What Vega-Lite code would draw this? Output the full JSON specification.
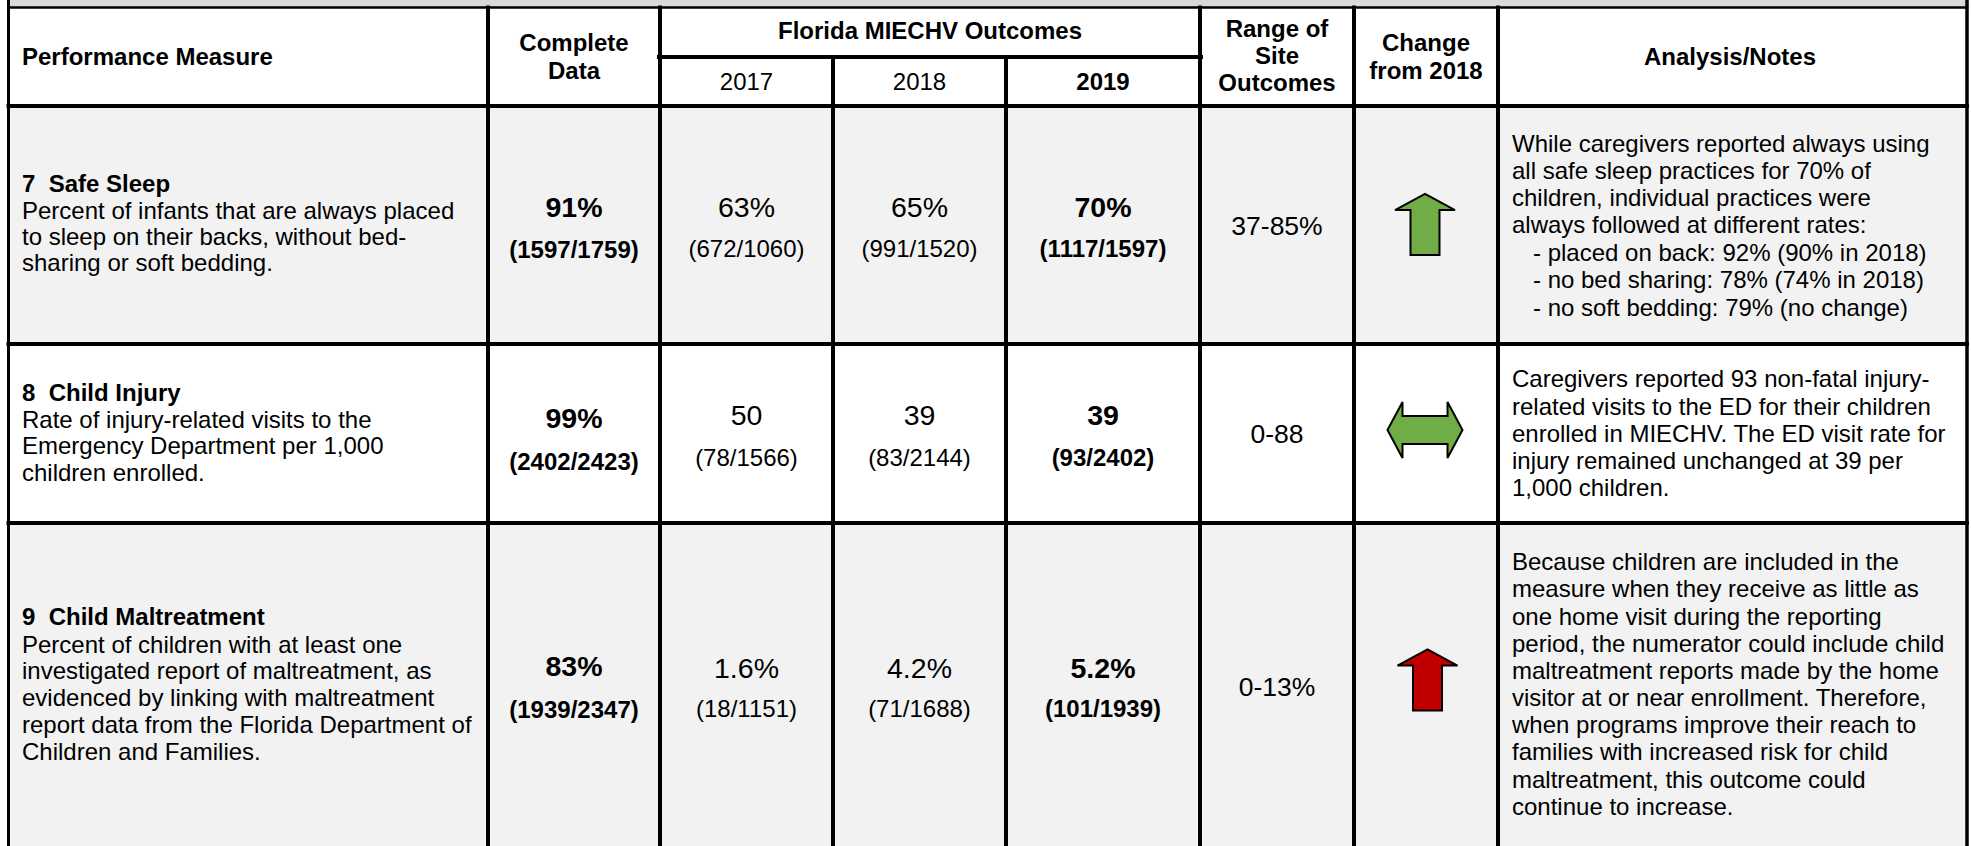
{
  "$schema": "https://vega.github.io/schema/vega-lite/v6.json",
  "width": 1971,
  "height": 846,
  "padding": 0,
  "autosize": {"type": "none"},
  "background": "#ffffff",
  "config": {"view": {"stroke": null}},
  "resolve": {"scale": {"fill": "independent", "strokeWidth": "independent", "shape": "independent"}},
  "datasets": {
    "shades": [
      {"area": "top margin", "x": 8.5, "x2": 1967, "y": 0, "y2": 7.5},
      {"area": "shaded row", "x": 8.5, "x2": 1967, "y": 106, "y2": 344},
      {"area": "shaded row", "x": 8.5, "x2": 1967, "y": 523, "y2": 846}
    ],
    "lines": [
      {"line": "frame top", "x": 8.5, "x2": 1967, "y": 7.5, "y2": 7.5},
      {"line": "frame left", "x": 8.5, "x2": 8.5, "y": 0, "y2": 846},
      {"line": "frame right", "x": 1967, "x2": 1967, "y": 0, "y2": 846},
      {"line": "grid", "x": 488, "x2": 488, "y": 7.5, "y2": 846},
      {"line": "grid", "x": 660, "x2": 660, "y": 7.5, "y2": 846},
      {"line": "grid", "x": 833, "x2": 833, "y": 57, "y2": 846},
      {"line": "grid", "x": 1006, "x2": 1006, "y": 57, "y2": 846},
      {"line": "grid", "x": 1200, "x2": 1200, "y": 7.5, "y2": 846},
      {"line": "grid", "x": 1354, "x2": 1354, "y": 7.5, "y2": 846},
      {"line": "grid", "x": 1498, "x2": 1498, "y": 7.5, "y2": 846},
      {"line": "grid", "x": 659, "x2": 1201, "y": 57, "y2": 57},
      {"line": "grid", "x": 8.5, "x2": 1967, "y": 106, "y2": 106},
      {"line": "grid", "x": 8.5, "x2": 1967, "y": 344, "y2": 344},
      {"line": "grid", "x": 8.5, "x2": 1967, "y": 523, "y2": 523}
    ],
    "arrows": [
      {"measure": "7 Safe Sleep", "change": "improved", "x": 1425, "y": 224.5},
      {"measure": "8 Child Injury", "change": "no change", "x": 1425, "y": 430},
      {"measure": "9 Child Maltreatment", "change": "worsened", "x": 1427.5, "y": 680}
    ],
    "texts": [
      {"role": "stub header", "x": 22, "y": 58, "text": "Performance Measure"},
      {"role": "column header", "x": 574, "y": 44, "text": "Complete"},
      {"role": "column header", "x": 574, "y": 72, "text": "Data"},
      {"role": "column header", "x": 930, "y": 32, "text": "Florida MIECHV Outcomes"},
      {"role": "year", "x": 746.5, "y": 83, "text": "2017"},
      {"role": "year", "x": 919.5, "y": 83, "text": "2018"},
      {"role": "column header", "x": 1103, "y": 83, "text": "2019"},
      {"role": "column header", "x": 1277, "y": 30, "text": "Range of"},
      {"role": "column header", "x": 1277, "y": 57, "text": "Site"},
      {"role": "column header", "x": 1277, "y": 84, "text": "Outcomes"},
      {"role": "column header", "x": 1426, "y": 44, "text": "Change"},
      {"role": "column header", "x": 1426, "y": 72, "text": "from 2018"},
      {"role": "column header", "x": 1730, "y": 58, "text": "Analysis/Notes"},

      {"role": "measure", "x": 22, "y": 185, "text": "7\u00a0 Safe Sleep"},
      {"role": "definition", "x": 22, "y": 212, "text": "Percent of infants that are always placed"},
      {"role": "definition", "x": 22, "y": 238, "text": "to sleep on their backs, without bed-"},
      {"role": "definition", "x": 22, "y": 264, "text": "sharing or soft bedding."},
      {"role": "completeness rate", "x": 574, "y": 208, "text": "91%"},
      {"role": "completeness count", "x": 574, "y": 251, "text": "(1597/1759)"},
      {"role": "rate", "x": 746.5, "y": 208, "text": "63%"},
      {"role": "count", "x": 746.5, "y": 250, "text": "(672/1060)"},
      {"role": "rate", "x": 919.5, "y": 208, "text": "65%"},
      {"role": "count", "x": 919.5, "y": 250, "text": "(991/1520)"},
      {"role": "rate 2019", "x": 1103, "y": 208, "text": "70%"},
      {"role": "count 2019", "x": 1103, "y": 250, "text": "(1117/1597)"},
      {"role": "site range", "x": 1277, "y": 227, "text": "37-85%"},
      {"role": "note", "x": 1512, "y": 144.5, "text": "While caregivers reported always using"},
      {"role": "note", "x": 1512, "y": 171.5, "text": "all safe sleep practices for 70% of"},
      {"role": "note", "x": 1512, "y": 198.5, "text": "children, individual practices were"},
      {"role": "note", "x": 1512, "y": 226, "text": "always followed at different rates:"},
      {"role": "note", "x": 1533, "y": 253.5, "text": "- placed on back: 92% (90% in 2018)"},
      {"role": "note", "x": 1533, "y": 281, "text": "- no bed sharing: 78% (74% in 2018)"},
      {"role": "note", "x": 1533, "y": 308.5, "text": "- no soft bedding: 79% (no change)"},

      {"role": "measure", "x": 22, "y": 394, "text": "8\u00a0 Child Injury"},
      {"role": "definition", "x": 22, "y": 421, "text": "Rate of injury-related visits to the"},
      {"role": "definition", "x": 22, "y": 447, "text": "Emergency Department per 1,000"},
      {"role": "definition", "x": 22, "y": 473.5, "text": "children enrolled."},
      {"role": "completeness rate", "x": 574, "y": 419, "text": "99%"},
      {"role": "completeness count", "x": 574, "y": 463, "text": "(2402/2423)"},
      {"role": "rate", "x": 746.5, "y": 416, "text": "50"},
      {"role": "count", "x": 746.5, "y": 459, "text": "(78/1566)"},
      {"role": "rate", "x": 919.5, "y": 416, "text": "39"},
      {"role": "count", "x": 919.5, "y": 459, "text": "(83/2144)"},
      {"role": "rate 2019", "x": 1103, "y": 416, "text": "39"},
      {"role": "count 2019", "x": 1103, "y": 459, "text": "(93/2402)"},
      {"role": "site range", "x": 1277, "y": 435, "text": "0-88"},
      {"role": "note", "x": 1512, "y": 380, "text": "Caregivers reported 93 non-fatal injury-"},
      {"role": "note", "x": 1512, "y": 407.5, "text": "related visits to the ED for their children"},
      {"role": "note", "x": 1512, "y": 435, "text": "enrolled in MIECHV. The ED visit rate for"},
      {"role": "note", "x": 1512, "y": 462, "text": "injury remained unchanged at 39 per"},
      {"role": "note", "x": 1512, "y": 489, "text": "1,000 children."},

      {"role": "measure", "x": 22, "y": 618, "text": "9\u00a0 Child Maltreatment"},
      {"role": "definition", "x": 22, "y": 645.5, "text": "Percent of children with at least one"},
      {"role": "definition", "x": 22, "y": 672, "text": "investigated report of maltreatment, as"},
      {"role": "definition", "x": 22, "y": 699, "text": "evidenced by linking with maltreatment"},
      {"role": "definition", "x": 22, "y": 726, "text": "report data from the Florida Department of"},
      {"role": "definition", "x": 22, "y": 752.5, "text": "Children and Families."},
      {"role": "completeness rate", "x": 574, "y": 667, "text": "83%"},
      {"role": "completeness count", "x": 574, "y": 711, "text": "(1939/2347)"},
      {"role": "rate", "x": 746.5, "y": 669, "text": "1.6%"},
      {"role": "count", "x": 746.5, "y": 710, "text": "(18/1151)"},
      {"role": "rate", "x": 919.5, "y": 669, "text": "4.2%"},
      {"role": "count", "x": 919.5, "y": 710, "text": "(71/1688)"},
      {"role": "rate 2019", "x": 1103, "y": 669, "text": "5.2%"},
      {"role": "count 2019", "x": 1103, "y": 710, "text": "(101/1939)"},
      {"role": "site range", "x": 1277, "y": 688, "text": "0-13%"},
      {"role": "note", "x": 1512, "y": 563, "text": "Because children are included in the"},
      {"role": "note", "x": 1512, "y": 590, "text": "measure when they receive as little as"},
      {"role": "note", "x": 1512, "y": 617.5, "text": "one home visit during the reporting"},
      {"role": "note", "x": 1512, "y": 645, "text": "period, the numerator could include child"},
      {"role": "note", "x": 1512, "y": 672, "text": "maltreatment reports made by the home"},
      {"role": "note", "x": 1512, "y": 698.5, "text": "visitor at or near enrollment. Therefore,"},
      {"role": "note", "x": 1512, "y": 726, "text": "when programs improve their reach to"},
      {"role": "note", "x": 1512, "y": 753, "text": "families with increased risk for child"},
      {"role": "note", "x": 1512, "y": 780.5, "text": "maltreatment, this outcome could"},
      {"role": "note", "x": 1512, "y": 807.5, "text": "continue to increase."}
    ]
  },
  "layer": [
    {
      "data": {"name": "shades"},
      "mark": {"type": "rect", "strokeWidth": 0},
      "encoding": {
        "x": {"field": "x", "type": "quantitative", "scale": {"domain": [0, 1971], "nice": false, "zero": false}, "axis": null},
        "x2": {"field": "x2"},
        "y": {"field": "y", "type": "quantitative", "scale": {"domain": [0, 846], "nice": false, "zero": false, "reverse": true}, "axis": null},
        "y2": {"field": "y2"},
        "fill": {"field": "area", "type": "nominal", "scale": {"domain": ["top margin", "shaded row"], "range": ["#D9D9D9", "#F2F2F2"]}, "legend": null}
      }
    },
    {
      "data": {"name": "texts"},
      "transform": [{"filter": {"field": "role", "oneOf": ["definition", "note"]}}],
      "mark": {"type": "text", "align": "left", "baseline": "middle", "font": "Liberation Sans", "fontSize": 24, "color": "#000000"},
      "encoding": {
        "x": {"field": "x", "type": "quantitative", "scale": {"domain": [0, 1971], "nice": false, "zero": false}, "axis": null},
        "y": {"field": "y", "type": "quantitative", "scale": {"domain": [0, 846], "nice": false, "zero": false, "reverse": true}, "axis": null},
        "text": {"field": "text", "type": "nominal"}
      }
    },
    {
      "data": {"name": "texts"},
      "transform": [{"filter": {"field": "role", "oneOf": ["stub header", "measure"]}}],
      "mark": {"type": "text", "align": "left", "baseline": "middle", "font": "Liberation Sans", "fontSize": 24, "fontWeight": "bold", "color": "#000000"},
      "encoding": {
        "x": {"field": "x", "type": "quantitative", "scale": {"domain": [0, 1971], "nice": false, "zero": false}, "axis": null},
        "y": {"field": "y", "type": "quantitative", "scale": {"domain": [0, 846], "nice": false, "zero": false, "reverse": true}, "axis": null},
        "text": {"field": "text", "type": "nominal"}
      }
    },
    {
      "data": {"name": "texts"},
      "transform": [{"filter": {"field": "role", "oneOf": ["column header", "completeness count", "count 2019"]}}],
      "mark": {"type": "text", "align": "center", "baseline": "middle", "font": "Liberation Sans", "fontSize": 24, "fontWeight": "bold", "color": "#000000"},
      "encoding": {
        "x": {"field": "x", "type": "quantitative", "scale": {"domain": [0, 1971], "nice": false, "zero": false}, "axis": null},
        "y": {"field": "y", "type": "quantitative", "scale": {"domain": [0, 846], "nice": false, "zero": false, "reverse": true}, "axis": null},
        "text": {"field": "text", "type": "nominal"}
      }
    },
    {
      "data": {"name": "texts"},
      "transform": [{"filter": {"field": "role", "oneOf": ["year", "count"]}}],
      "mark": {"type": "text", "align": "center", "baseline": "middle", "font": "Liberation Sans", "fontSize": 24, "color": "#000000"},
      "encoding": {
        "x": {"field": "x", "type": "quantitative", "scale": {"domain": [0, 1971], "nice": false, "zero": false}, "axis": null},
        "y": {"field": "y", "type": "quantitative", "scale": {"domain": [0, 846], "nice": false, "zero": false, "reverse": true}, "axis": null},
        "text": {"field": "text", "type": "nominal"}
      }
    },
    {
      "data": {"name": "texts"},
      "transform": [{"filter": {"field": "role", "oneOf": ["completeness rate", "rate 2019"]}}],
      "mark": {"type": "text", "align": "center", "baseline": "middle", "font": "Liberation Sans", "fontSize": 28.5, "fontWeight": "bold", "color": "#000000"},
      "encoding": {
        "x": {"field": "x", "type": "quantitative", "scale": {"domain": [0, 1971], "nice": false, "zero": false}, "axis": null},
        "y": {"field": "y", "type": "quantitative", "scale": {"domain": [0, 846], "nice": false, "zero": false, "reverse": true}, "axis": null},
        "text": {"field": "text", "type": "nominal"}
      }
    },
    {
      "data": {"name": "texts"},
      "transform": [{"filter": {"field": "role", "oneOf": ["rate"]}}],
      "mark": {"type": "text", "align": "center", "baseline": "middle", "font": "Liberation Sans", "fontSize": 28.5, "color": "#000000"},
      "encoding": {
        "x": {"field": "x", "type": "quantitative", "scale": {"domain": [0, 1971], "nice": false, "zero": false}, "axis": null},
        "y": {"field": "y", "type": "quantitative", "scale": {"domain": [0, 846], "nice": false, "zero": false, "reverse": true}, "axis": null},
        "text": {"field": "text", "type": "nominal"}
      }
    },
    {
      "data": {"name": "texts"},
      "transform": [{"filter": {"field": "role", "oneOf": ["site range"]}}],
      "mark": {"type": "text", "align": "center", "baseline": "middle", "font": "Liberation Sans", "fontSize": 26.5, "color": "#000000"},
      "encoding": {
        "x": {"field": "x", "type": "quantitative", "scale": {"domain": [0, 1971], "nice": false, "zero": false}, "axis": null},
        "y": {"field": "y", "type": "quantitative", "scale": {"domain": [0, 846], "nice": false, "zero": false, "reverse": true}, "axis": null},
        "text": {"field": "text", "type": "nominal"}
      }
    },
    {
      "data": {"name": "arrows"},
      "mark": {"type": "point", "filled": true, "opacity": 1, "size": 3600, "stroke": "#000000", "strokeWidth": 2, "strokeJoin": "miter"},
      "encoding": {
        "x": {"field": "x", "type": "quantitative", "scale": {"domain": [0, 1971], "nice": false, "zero": false}, "axis": null},
        "y": {"field": "y", "type": "quantitative", "scale": {"domain": [0, 846], "nice": false, "zero": false, "reverse": true}, "axis": null},
        "shape": {"field": "change", "type": "nominal", "scale": {"domain": ["improved", "no change", "worsened"], "range": ["M0,-1.017L1,-0.483L0.483,-0.483L0.483,1.017L-0.483,1.017L-0.483,-0.483L-1,-0.483Z", "M-1.25,0L-0.75,-0.933L-0.75,-0.467L0.75,-0.467L0.75,-0.933L1.25,0L0.75,0.933L0.75,0.467L-0.75,0.467L-0.75,0.933Z", "M0,-1.017L1,-0.483L0.483,-0.483L0.483,1.017L-0.483,1.017L-0.483,-0.483L-1,-0.483Z"]}, "legend": null},
        "fill": {"field": "change", "type": "nominal", "scale": {"domain": ["improved", "no change", "worsened"], "range": ["#70AD47", "#70AD47", "#C00000"]}, "legend": null}
      }
    },
    {
      "data": {"name": "lines"},
      "mark": {"type": "rule", "color": "#000000", "strokeCap": "square"},
      "encoding": {
        "x": {"field": "x", "type": "quantitative", "scale": {"domain": [0, 1971], "nice": false, "zero": false}, "axis": null},
        "x2": {"field": "x2"},
        "y": {"field": "y", "type": "quantitative", "scale": {"domain": [0, 846], "nice": false, "zero": false, "reverse": true}, "axis": null},
        "y2": {"field": "y2"},
        "strokeWidth": {"field": "line", "type": "nominal", "scale": {"domain": ["frame top", "frame left", "frame right", "grid"], "range": [2.5, 4, 8, 2.5]}, "legend": null}
      }
    }
  ]
}
